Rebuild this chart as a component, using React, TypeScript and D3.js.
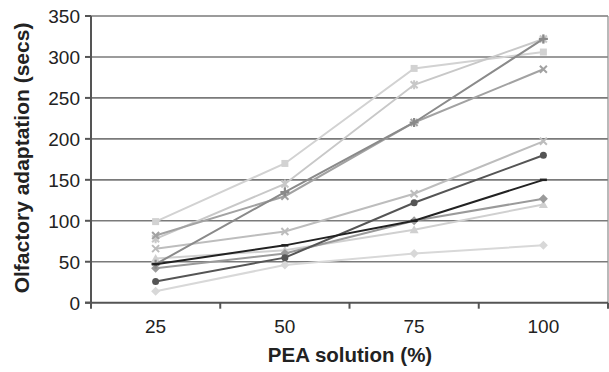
import React from "react";
import * as d3 from "d3";

const categories = ["25", "50", "75", "100"];
const yTicks = [0, 50, 100, 150, 200, 250, 300, 350];

const squareLight = [99, 170, 286, 306];
const asteriskLight = [78, 145, 266, 322];
const crossGray = [82, 130, 220, 285];
const plusDark = [47, 135, 220, 322];
const crossLight = [66, 87, 133, 197];
const circleDark = [26, 55, 122, 180];
const dashBlack = [47, 70, 100, 150];
const diamondGray = [42, 60, 100, 127];
const triangleLight = [54, 64, 89, 120];
const diamondLight = [14, 46, 60, 70];

const seriesList = [
  { name: "squareLight", values: squareLight, color: "#d2d2d2", marker: "square" },
  { name: "asteriskLight", values: asteriskLight, color: "#c8c8c8", marker: "asterisk" },
  { name: "crossLight", values: crossLight, color: "#bdbdbd", marker: "cross" },
  { name: "triangleLight", values: triangleLight, color: "#d0d0d0", marker: "triangle" },
  { name: "diamondLight", values: diamondLight, color: "#d8d8d8", marker: "diamond" },
  { name: "crossGray", values: crossGray, color: "#a2a2a2", marker: "cross" },
  { name: "diamondGray", values: diamondGray, color: "#9a9a9a", marker: "diamond" },
  { name: "plusDark", values: plusDark, color: "#8a8a8a", marker: "plus" },
  { name: "circleDark", values: circleDark, color: "#555555", marker: "circle" },
  { name: "dashBlack", values: dashBlack, color: "#222222", marker: "dash" },
];

const W = 609;
const H = 372;
const left = 91;
const right = 608;
const top = 16;
const bottom = 302.7;

function Marker({ type, x, y, color }: { type: string; x: number; y: number; color: string }) {
  const s = 3.5;
  switch (type) {
    case "square":
      return <rect x={x - s} y={y - s} width={2 * s} height={2 * s} fill={color} />;
    case "circle":
      return <circle cx={x} cy={y} r={s} fill={color} />;
    case "diamond":
      return <path d={`M${x},${y - s - 1}L${x + s + 1},${y}L${x},${y + s + 1}L${x - s - 1},${y}Z`} fill={color} />;
    case "triangle":
      return <path d={`M${x},${y - s - 1}L${x + s + 1},${y + s}L${x - s - 1},${y + s}Z`} fill={color} />;
    case "cross":
      return (
        <path d={`M${x - s},${y - s}L${x + s},${y + s}M${x - s},${y + s}L${x + s},${y - s}`} stroke={color} strokeWidth={2} />
      );
    case "asterisk":
      return (
        <path
          d={`M${x - s},${y - s}L${x + s},${y + s}M${x - s},${y + s}L${x + s},${y - s}M${x},${y - s - 1}L${x},${y + s + 1}`}
          stroke={color}
          strokeWidth={2}
        />
      );
    case "plus":
      return (
        <path d={`M${x - s - 1},${y}L${x + s + 1},${y}M${x},${y - s - 1}L${x},${y + s + 1}`} stroke={color} strokeWidth={2.2} />
      );
    case "dash":
      return <path d={`M${x - s},${y}L${x + s},${y}`} stroke={color} strokeWidth={2.5} />;
    default:
      return null;
  }
}

export default function App() {
  const x = d3.scaleBand<string>().domain(categories).range([left, right]).padding(0);
  const y = d3.scaleLinear().domain([0, 350]).range([bottom, top]);
  const cx = (c: string) => (x(c) as number) + x.bandwidth() / 2;
  const line = d3
    .line<number>()
    .x((_, i) => cx(categories[i]))
    .y((v) => y(v));

  const font = "'Liberation Sans', Arial, sans-serif";

  return (
    <svg width={W} height={H} style={{ position: "absolute", left: 0, top: 0, background: "#fff" }}>
      {yTicks.filter((t) => t > 0).map((t) => (
        <line key={t} x1={left} x2={right} y1={y(t)} y2={y(t)} stroke="#7a7a7a" strokeWidth={1.6} />
      ))}
      <line x1={right} x2={right} y1={top} y2={bottom} stroke="#8a8a8a" strokeWidth={1.2} />
      {seriesList.map((s) => (
        <g key={s.name}>
          <path d={line(s.values) || ""} fill="none" stroke={s.color} strokeWidth={2} />
          {s.values.map((v, i) => (
            <Marker key={i} type={s.marker} x={cx(categories[i])} y={y(v)} color={s.color} />
          ))}
        </g>
      ))}
      <line x1={left} x2={left} y1={top} y2={bottom + 6} stroke="#555" strokeWidth={2} />
      <line x1={left - 6} x2={right} y1={bottom} y2={bottom} stroke="#555" strokeWidth={2} />
      {yTicks.map((t) => (
        <g key={t}>
          <line x1={left - 6} x2={left} y1={y(t)} y2={y(t)} stroke="#555" strokeWidth={2} />
          <text x={80} y={y(t)} dy="0.36em" textAnchor="end" fontFamily={font} fontSize={19} fill="#222">
            {t}
          </text>
        </g>
      ))}
      {categories.map((c) => (
        <g key={c}>
          <line
            x1={(x(c) as number) + x.bandwidth()}
            x2={(x(c) as number) + x.bandwidth()}
            y1={bottom}
            y2={bottom + 6}
            stroke="#555"
            strokeWidth={2}
          />
          <text x={cx(c)} y={333} textAnchor="middle" fontFamily={font} fontSize={19} fill="#222">
            {c}
          </text>
        </g>
      ))}
      <text x={350} y={362} textAnchor="middle" fontFamily={font} fontSize={20.5} fontWeight="bold" fill="#222">
        PEA solution (%)
      </text>
      <text
        transform={`translate(29,158) rotate(-90)`}
        textAnchor="middle"
        fontFamily={font}
        fontSize={21}
        fontWeight="bold"
        fill="#222"
      >
        Olfactory adaptation (secs)
      </text>
    </svg>
  );
}
